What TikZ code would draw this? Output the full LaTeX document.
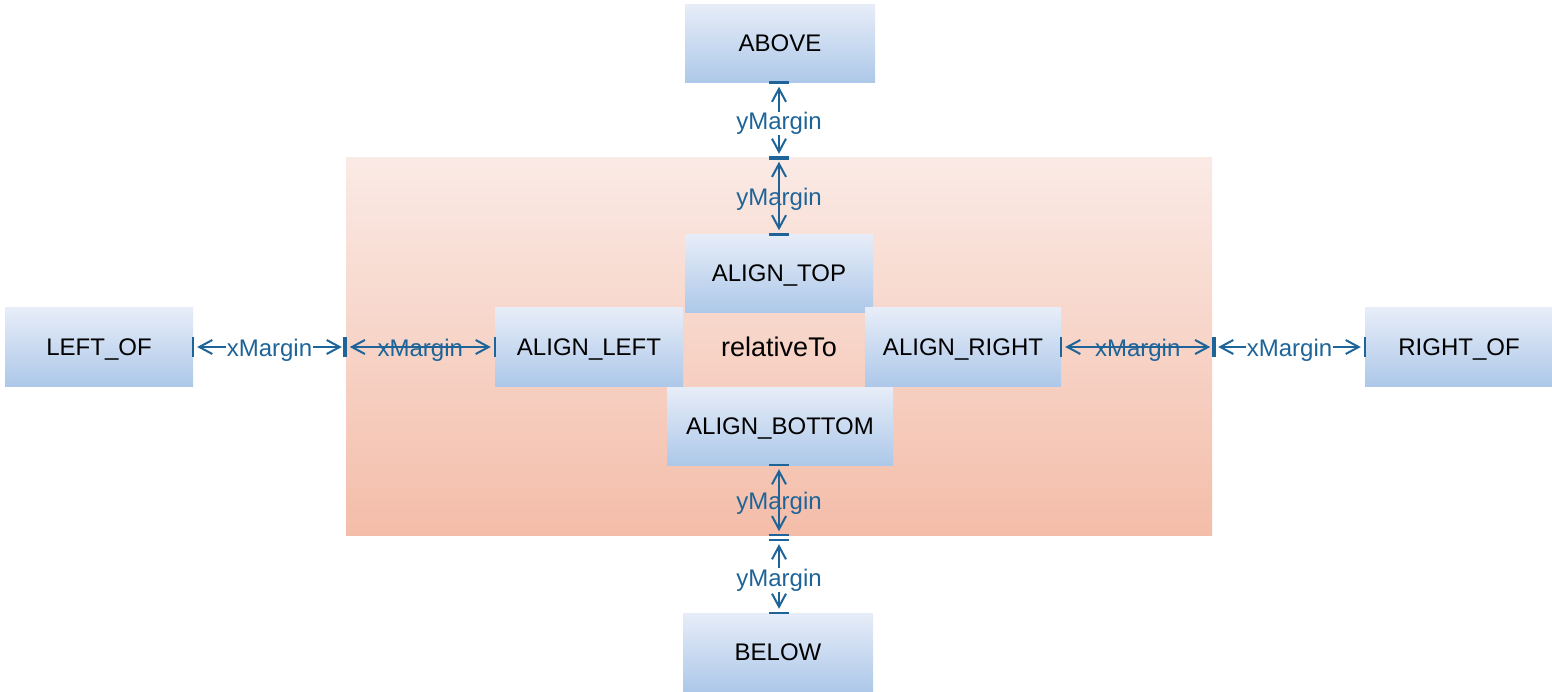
\documentclass[tikz,border=0pt]{standalone}
\usepackage{fontspec}
\setmainfont{Liberation Sans}
\usetikzlibrary{arrows.meta,calc}
\definecolor{dimc}{RGB}{30,100,152}
\definecolor{boxtop}{RGB}{231,237,248}
\definecolor{boxbot}{RGB}{173,200,233}
\definecolor{reltop}{RGB}{250,234,229}
\definecolor{relbot}{RGB}{244,189,169}
\tikzset{
  box/.style={top color=boxtop, bottom color=boxbot, draw=none, minimum height=78pt,
    inner sep=0pt, text height=17pt, text depth=0pt,
    font=\fontsize{24pt}{28pt}\selectfont, text=black},
  relbox/.style={top color=reltop, bottom color=relbot, draw=none, inner sep=0pt,
    minimum width=866pt, minimum height=377pt, font=\fontsize{27pt}{30pt}\selectfont, text=black},
  lbl/.style={text=dimc, font=\fontsize{24pt}{28pt}\selectfont, inner sep=0.5pt, yshift=-3.5pt},
  lblw/.style={lbl, fill=white},
  dim/.style={draw=dimc, line width=2pt,
    {Straight Barb[length=13pt,width=14pt,line width=2pt]}-{Straight Barb[length=13pt,width=14pt,line width=2pt]},
    shorten <=4pt, shorten >=4pt},
  barc/.style={draw=dimc, line width=2.5pt},
  thickbar/.style={draw=dimc, line width=4pt},
}
\begin{document}
\begin{tikzpicture}[x=1pt,y=-1pt]
\useasboundingbox (0,0) rectangle (1552,692);
% relative-to region
\node[relbox] (rel) at (779,346.5) {relativeTo};
% boxes
\node[box, minimum width=190pt] (above) at (780,43.5) {ABOVE};
\node[box, minimum width=188pt] (top) at (779,273.5) {ALIGN\_TOP};
\node[box, minimum width=188pt] (left) at (589,347) {ALIGN\_LEFT};
\node[box, minimum width=196pt] (right) at (963,347) {ALIGN\_RIGHT};
\node[box, minimum width=226pt] (bottom) at (780,426) {ALIGN\_BOTTOM};
\node[box, minimum width=188pt] (leftof) at (99,347) {LEFT\_OF};
\node[box, minimum width=188pt] (rightof) at (1459,347) {RIGHT\_OF};
\node[box, minimum width=190pt] (below) at (778,652) {BELOW};
% coordinates on the vertical axis
\coordinate (va) at (above.south -| rel.north);
\coordinate (vt) at (top.north -| rel.north);
\coordinate (vb) at (bottom.south -| rel.north);
\coordinate (rb) at (rel.south);
\coordinate (rb2) at ([yshift=-5pt]rel.south);
\coordinate (vbl) at (below.north -| rel.north);
% coordinates on the horizontal axis
\coordinate (hl) at (leftof.east);
\coordinate (hrl) at (rel.west |- leftof.east);
\coordinate (hal) at (left.west);
\coordinate (har) at (right.east);
\coordinate (hrr) at (rel.east |- right.east);
\coordinate (hro) at (rightof.west);
% bars
\foreach \p in {va,vt,vb,vbl}{\draw[barc] ([xshift=-10pt]\p) -- ([xshift=10pt]\p);}
\draw[thickbar] ([xshift=-10pt]rel.north) -- ([xshift=10pt]rel.north);
\draw[barc] ([xshift=-10pt]rb) -- ([xshift=10pt]rb);
\draw[barc] ([xshift=-10pt]rb2) -- ([xshift=10pt]rb2);
\foreach \p in {hl,hal,har,hro}{\draw[barc] ([yshift=-10pt]\p) -- ([yshift=10pt]\p);}
\draw[thickbar] ([yshift=-10pt,xshift=-1pt]hrl) -- ([yshift=10pt,xshift=-1pt]hrl);
\draw[thickbar] ([yshift=-10pt,xshift=2pt]hrr) -- ([yshift=10pt,xshift=2pt]hrr);
% dimension arrows
\draw[dim] (va) -- node[lblw]{yMargin} (rel.north);
\draw[dim] (rel.north) -- node[lbl]{yMargin} (vt);
\draw[dim] (vb) -- node[lbl]{yMargin} (rb);
\draw[dim] (rb2) -- node[lblw]{yMargin} (vbl);
\draw[dim] (hl) -- node[lblw]{xMargin} (hrl);
\draw[dim] (hrl) -- node[lbl]{xMargin} (hal);
\draw[dim] (har) -- node[lbl]{xMargin} ([xshift=2pt]hrr);
\draw[dim] ([xshift=2pt]hrr) -- node[lblw]{xMargin} (hro);
\end{tikzpicture}
\end{document}
